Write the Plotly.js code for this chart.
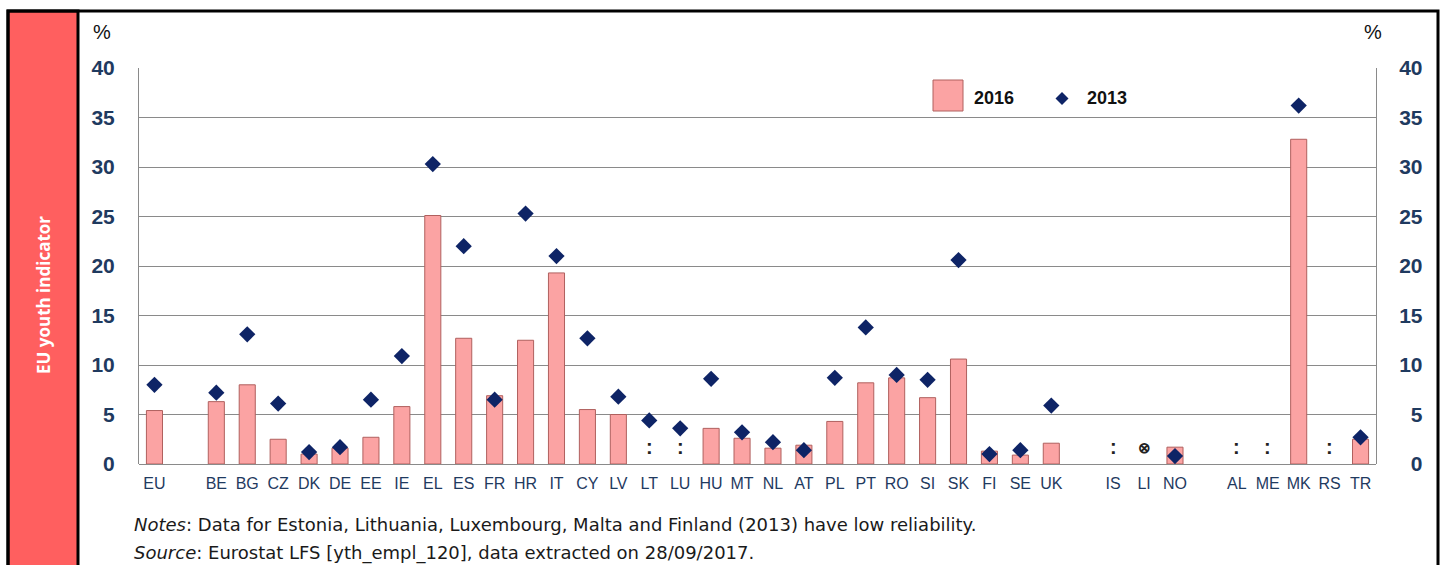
<!DOCTYPE html>
<html>
<head>
<meta charset="utf-8">
<script src="https://cdn.plot.ly/plotly-3.0.1.min.js"></script>
<style>html,body{margin:0;padding:0;background:#fff;}#chart{width:1442px;height:565px;}</style>
</head>
<body>
<div id="chart"></div>
<script>
// ---- data ----
const categories = ['EU','','BE','BG','CZ','DK','DE','EE','IE','EL','ES','FR','HR','IT','CY','LV','LT','LU','HU','MT','NL','AT','PL','PT','RO','SI','SK','FI','SE','UK','','IS','LI','NO','','AL','ME','MK','RS','TR'];
const values2016 = [5.4,null,6.3,8.0,2.5,1.0,1.6,2.7,5.8,25.1,12.7,6.9,12.5,19.3,5.5,5.0,null,null,3.6,2.6,1.6,1.9,4.3,8.2,8.7,6.7,10.6,1.3,0.9,2.1,null,null,null,1.7,null,null,null,32.8,null,2.5];
const values2013 = [8.0,null,7.2,13.1,6.1,1.2,1.7,6.5,10.9,30.3,22.0,6.5,25.3,21.0,12.7,6.8,4.4,3.6,8.6,3.2,2.2,1.4,8.7,13.8,9.0,8.5,20.6,1.0,1.4,5.9,null,null,null,0.8,null,null,null,36.2,null,2.7];
const flags2016 = ['','','','','','','','','','','','','','','','',':',':','','','','','','','','','','','','','',':','\u2297','','',':',':','',':',''];
const yTicks = [0,5,10,15,20,25,30,35,40];
const seriesNames = ['2016','2013'];

// slot index of each category (library maps these through its linear x scale)
const slots = categories.map((c, i) => i);

// ---- geometry helpers (pixel -> paper) ----
const W = 1442, H = 565, ML = 139, MR = 66, MT = 68, MB = 101;
const PW = W - ML - MR, PH = H - MT - MB;
const xp = px => (px - ML) / PW;
const yp = py => (H - MB - py) / PH;

const pink = '#FBA3A3', pinkLine = '#B0605E', navy = '#0E2466', tickCol = '#1F3A5F', grid = '#8A8A8A';

const traces = [
  {type:'bar', x:slots, y:values2016, name:seriesNames[0], width:0.52,
   marker:{color:pink, line:{color:pinkLine, width:1}}, hoverinfo:'y', showlegend:false},
  {type:'scatter', mode:'markers', x:slots, y:values2013, name:seriesNames[1],
   marker:{symbol:'diamond', size:12.5, color:navy}, hoverinfo:'y', showlegend:false},
  {type:'scatter', mode:'markers', x:[slots[0]], y:[null], yaxis:'y2', showlegend:false, hoverinfo:'skip'}
];

const annotations = [];
flags2016.forEach((f,i) => {
  if (f) annotations.push({x:slots[i], y:0, xref:'x', yref:'y', text:f, showarrow:false, yanchor:'middle',
    yshift:17, font:{family:'Liberation Sans, Arial', size:f===':'?20:15, color:'#222', weight:'bold'}});
});
const ann = (px, py, text, font, extra) => Object.assign({xref:'paper', yref:'paper', x:xp(px), y:yp(py),
  text:text, showarrow:false, xanchor:'center', yanchor:'middle', font:font}, extra || {});
// % labels
annotations.push(ann(102, 32, '%', {family:'Liberation Sans, Arial', size:20, color:'#111'}));
annotations.push(ann(1373, 32, '%', {family:'Liberation Sans, Arial', size:20, color:'#111'}));
// legend texts
annotations.push(ann(972, 98, seriesNames[0], {family:'Liberation Sans, Arial', size:18, color:'#111', weight:'bold'}, {xanchor:'left'}));
annotations.push(ann(1085, 98, seriesNames[1], {family:'Liberation Sans, Arial', size:18, color:'#111', weight:'bold'}, {xanchor:'left'}));
// sidebar text
annotations.push(ann(43, 295, 'EU youth indicator', {family:'Open Sans, Noto Sans', size:17, color:'#fff', weight:'bold'}, {textangle:-90}));
// notes
annotations.push(ann(132, 524, '<i>Notes</i>: Data for Estonia, Lithuania, Luxembourg, Malta and Finland (2013) have low reliability.',
  {family:'DejaVu Sans, Verdana', size:18, color:'#1a1a1a'}, {xanchor:'left'}));
annotations.push(ann(132, 553, '<i>Source</i>: Eurostat LFS [yth_empl_120], data extracted on 28/09/2017.',
  {family:'DejaVu Sans, Verdana', size:18, color:'#1a1a1a'}, {xanchor:'left'}));

const cx = 1062, cy = 98.5, d = 6.5;
const shapes = [
  {type:'rect', xref:'paper', yref:'paper', x0:xp(8), x1:xp(78), y0:yp(620), y1:yp(11),
   fillcolor:'#FF5F5F', line:{color:'#000', width:3}, layer:'below'},
  {type:'rect', xref:'paper', yref:'paper', x0:xp(8), x1:xp(1438), y0:yp(620), y1:yp(11),
   fillcolor:'rgba(0,0,0,0)', line:{color:'#000', width:3}, layer:'below'},
  {type:'rect', xref:'paper', yref:'paper', x0:xp(933), x1:xp(963), y0:yp(111), y1:yp(80),
   fillcolor:pink, line:{color:pinkLine, width:1}},
  {type:'path', xref:'paper', yref:'paper',
   path:`M ${xp(cx-d)} ${yp(cy)} L ${xp(cx)} ${yp(cy-d)} L ${xp(cx+d)} ${yp(cy)} L ${xp(cx)} ${yp(cy+d)} Z`,
   fillcolor:navy, line:{color:navy, width:0}}
];

const tickFont = {family:'Liberation Sans, Arial', size:21, color:tickCol, weight:'bold'};
const layout = {
  width:W, height:H, margin:{l:ML, r:MR, t:MT, b:MB, pad:0},
  paper_bgcolor:'#fff', plot_bgcolor:'#fff', showlegend:false,
  xaxis:{type:'linear', range:[-0.5, categories.length - 0.5], tickmode:'array', tickvals:slots, ticktext:categories,
    showgrid:false, zeroline:false, showline:false, ticks:'outside', ticklen:5, tickcolor:'rgba(0,0,0,0)',
    tickfont:{family:'Liberation Sans, Arial', size:16, color:tickCol}, tickangle:0, fixedrange:true},
  yaxis:{range:[0,40], tickvals:yTicks, showgrid:true, gridcolor:grid, gridwidth:1, zeroline:true,
    zerolinecolor:grid, zerolinewidth:1, showline:true, linecolor:grid, linewidth:1,
    ticks:'outside', ticklen:19, tickcolor:'rgba(0,0,0,0)', tickfont:tickFont, fixedrange:true},
  yaxis2:{range:[0,40], overlaying:'y', side:'right', tickvals:yTicks,
    ticktext:yTicks.map(v => v < 10 ? '\u2007' + v : String(v)),
    showgrid:false, zeroline:false, showline:true, linecolor:grid, linewidth:1,
    ticks:'outside', ticklen:18, tickcolor:'rgba(0,0,0,0)', tickfont:tickFont, fixedrange:true},
  shapes:shapes, annotations:annotations
};

Plotly.newPlot('chart', traces, layout, {displayModeBar:false, staticPlot:true});
</script>
</body>
</html>
